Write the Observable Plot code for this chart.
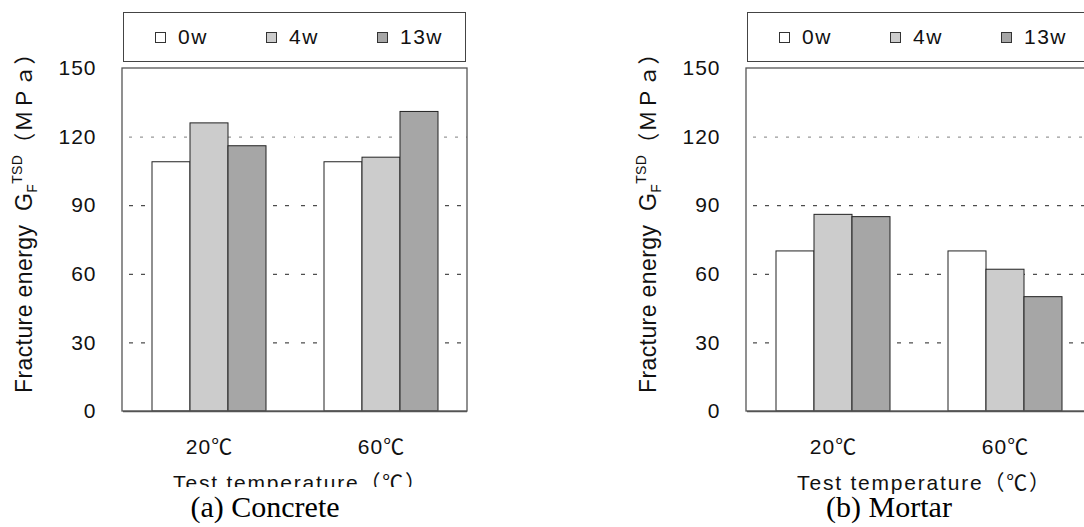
<!DOCTYPE html>
<html>
<head>
<meta charset="utf-8">
<script src="https://cdn.jsdelivr.net/npm/d3@7"></script>
<script src="https://cdn.jsdelivr.net/npm/@observablehq/plot@0.6"></script>
<style>
  html, body { margin: 0; padding: 0; background: #fff; }
  #wrap { position: relative; width: 1084px; height: 527px; overflow: hidden; background: #fff; }
  .panel { position: absolute; top: 0; width: 500px; height: 527px; }
  .panel svg { position: absolute; left: 0; top: 0; }
  .legend { position: absolute; left: 123px; top: 12px; width: 343px; height: 50px; border: 1px solid #444;
            box-sizing: border-box; display: flex; align-items: center; padding-left: 31px;
            font-family: 'Liberation Sans', 'Noto Sans CJK JP', sans-serif; font-size: 21px; letter-spacing: 1.5px; color: #111; background: #fff; }
  .legend .item { width: 111px; flex: 0 0 111px; display: flex; align-items: center; }
  .legend .sw { width: 9px; height: 9px; flex: 0 0 9px; border: 1px solid #333; margin-right: 12px; }
  .xtitle { position: absolute; left: 128px; width: 345px; top: 468px; height: 30px; line-height: 30px;
            text-align: center; font-family: 'Liberation Sans', 'Noto Sans CJK JP', sans-serif; font-size: 21px; letter-spacing: 1.8px; color: #111; white-space: nowrap; }
  .caption { position: absolute; left: 122px; width: 345px; top: 487px; height: 40px; line-height: 40px;
             padding-right: 59px; box-sizing: border-box; text-align: center;
             font-family: 'Liberation Serif', serif; font-size: 30px; color: #000; }
</style>
</head>
<body>
<div id="wrap"></div>
<script>
// ---- data ----
const temps = ["20℃", "60℃"];
const ages = ["0w", "4w", "13w"];
const ageColors = ["#ffffff", "#cccccc", "#a6a6a6"];
const yTicks = [0, 30, 60, 90, 120, 150];
const gridDark = [30, 60, 90];
const gridLight = [120];

const concrete0w = [109, 109];
const concrete4w = [126, 111];
const concrete13w = [116, 131];

const mortar0w = [70, 70];
const mortar4w = [86, 62];
const mortar13w = [85, 50];

const xTitle = "Test temperature（℃）";
const captions = ["(a) Concrete", "(b) Mortar"];

const panels = [
  {left: 0, series: [concrete0w, concrete4w, concrete13w], caption: captions[0], bg: true},
  {left: 624, series: [mortar0w, mortar4w, mortar13w], caption: captions[1], bg: false}
];

const W = 500, H = 527, ML = 122, MR = 33, MT = 68, MB = 116;
const wrap = document.getElementById("wrap");

for (const p of panels) {
  const rows = temps.flatMap((t, i) => ages.map((a, j) => ({temp: t, age: a, value: p.series[j][i]})));

  const chart = Plot.plot({
    width: W,
    height: H,
    marginLeft: ML,
    marginRight: MR,
    marginTop: MT,
    marginBottom: MB,
    style: {fontFamily: "'Liberation Sans', 'Noto Sans CJK JP', sans-serif", fontSize: "21px", color: "#111", background: "transparent", overflow: "visible", letterSpacing: "1px"},
    facet: {data: rows, x: "temp"},
    fx: {domain: temps, padding: 0, label: null, axis: "bottom", tickSize: 0, tickPadding: 28},
    x: {domain: ages, paddingInner: 0, paddingOuter: 0.74, axis: null},
    y: {domain: [0, 150], ticks: yTicks, tickSize: 0, tickPadding: 27, label: null},
    color: {domain: ages, range: ageColors},
    marks: [
      Plot.ruleY(gridDark, {stroke: "#222", strokeWidth: 1, strokeDasharray: "4,8", strokeDashoffset: -6}),
      Plot.ruleY(gridLight, {stroke: "#999", strokeWidth: 1.3, strokeDasharray: "3,8", strokeDashoffset: -6}),
      Plot.barY(rows, {x: "age", y: "value", fill: "age", stroke: "#222", strokeWidth: 1}),
      Plot.ruleY([0], {stroke: "#555", strokeWidth: 1.5})
    ]
  });

  // outer frame around the whole panel (across both facets)
  const ys = chart.scale("y");
  const svg = d3.select(chart);
  svg.append("rect")
    .attr("x", ML).attr("y", Math.min(...ys.range))
    .attr("width", W - ML - MR).attr("height", Math.abs(ys.range[0] - ys.range[1]))
    .attr("fill", "none").attr("stroke", "#555").attr("stroke-width", 1.3);

  const panel = document.createElement("div");
  panel.className = "panel";
  panel.style.left = p.left + "px";
  panel.appendChild(chart);

  // y-axis label with sub/superscript
  const lab = svg.append("text")
    .attr("transform", `translate(32,${ys.range[0] - 18}) rotate(-90)`)
    .attr("text-anchor", "start")
    .attr("fill", "#111")
    .style("font-family", "'Liberation Sans', 'Noto Sans CJK JP', sans-serif")
    .style("font-size", "23px")
    .style("letter-spacing", "0.4px")
    .style("white-space", "pre");
  lab.append("tspan").text("Fracture energy  G");
  lab.append("tspan").attr("dy", 5).style("font-size", "14px").text("F");
  lab.append("tspan").attr("dy", -15).style("font-size", "14px").text("TSD");
  lab.append("tspan").attr("dy", 10)
    .style("font-family", "'Noto Sans CJK JP', sans-serif")
    .style("font-size", "22px").style("letter-spacing", "0.5px")
    .text("（ＭＰａ）");

  // legend
  const legend = document.createElement("div");
  legend.className = "legend";
  ages.forEach((a, i) => {
    const item = document.createElement("div");
    item.className = "item";
    const sw = document.createElement("span");
    sw.className = "sw";
    sw.style.background = ageColors[i];
    const tx = document.createElement("span");
    tx.textContent = a;
    item.appendChild(sw);
    item.appendChild(tx);
    legend.appendChild(item);
  });
  panel.appendChild(legend);

  const xt = document.createElement("div");
  xt.className = "xtitle";
  xt.textContent = xTitle;
  panel.appendChild(xt);

  const cap = document.createElement("div");
  cap.className = "caption";
  cap.textContent = p.caption;
  if (p.bg) cap.style.background = "#fff";
  panel.appendChild(cap);

  wrap.appendChild(panel);
}
</script>
</body>
</html>
